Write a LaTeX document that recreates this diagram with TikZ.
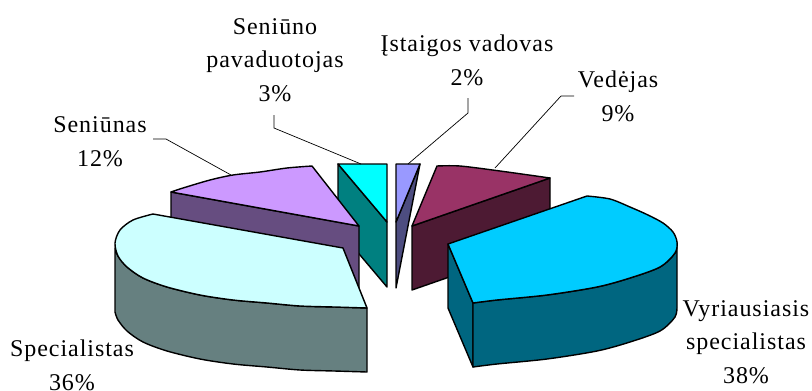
\documentclass[tikz,border=0pt]{standalone}
\usepackage{fontspec}
\setmainfont[LetterSpace=4]{Liberation Serif}
\definecolor{cyanTop}{HTML}{00FFFF}
\definecolor{cyanSide}{HTML}{008080}
\definecolor{istTop}{HTML}{9999FF}
\definecolor{istSide}{HTML}{4D4D80}
\definecolor{vedTop}{HTML}{993366}
\definecolor{vedSide}{HTML}{4D1A33}
\definecolor{vyrTop}{HTML}{00CCFF}
\definecolor{vyrSide}{HTML}{006680}
\definecolor{speTop}{HTML}{CCFFFF}
\definecolor{speSide}{HTML}{668080}
\definecolor{senTop}{HTML}{CC99FF}
\definecolor{senSide}{HTML}{664D80}
\tikzset{
  face/.style={draw=black, line width=1.4pt, line join=round},
  lbl/.style={font=\fontsize{24}{33.5}\selectfont, align=center, inner sep=0pt, anchor=base},
  leader/.style={draw=black, line width=0.7pt}
}
\begin{document}
\begin{tikzpicture}[x=1pt,y=-1pt]
\useasboundingbox (0,0) rectangle (812,391);
% --- Seniuno pavaduotojas (3%)
\fill[cyanSide,face] (338,164) -- (387,222) -- (387,287) -- (338,229) -- cycle;
\fill[cyanTop,face] (338,164) -- (387,164) -- (387,222) -- cycle;
% --- Istaigos vadovas (2%)
\fill[istSide,face] (420,164) -- (396,222) -- (396,288) -- cycle;
\fill[istTop,face] (396,164) -- (420,164) -- (396,222) -- cycle;
% --- Vedejas (9%)
\fill[vedSide,face] (412,226) -- (550,178) -- (550,242) -- (412,290) -- cycle;
\fill[vedTop,face] (412,226) -- (437,166) -- plot[smooth] coordinates {(437,166) (460,166) (500,171) (550,178)} -- cycle;
% --- Seniunas (12%)
\fill[senSide,face] (171,192) -- (359,226) -- (359,290) -- (171,256) -- cycle;
\fill[senTop,face] (359,226) -- (171,192) -- plot[smooth] coordinates {(171,192) (183,188) (210,180) (233,175) (260,172) (287,168) (312,166)} -- cycle;
% --- Vyriausiasis specialistas (38%)
\fill[vyrSide,face] (448,244) -- (473,303) -- (473,367) -- (448,308) -- cycle;
\fill[vyrSide,face] (677,242) -- plot[smooth] coordinates {(677,242) (675,253) (660,267) (630,278) (597,287) (547,295) (497,300) (473,303)}
  -- (473,367) -- plot[smooth] coordinates {(473,367) (497,364) (547,359) (597,351) (630,342) (660,331) (675,317) (677,306)} -- cycle;
\fill[vyrTop,face] (448,244) -- (587,196) -- plot[smooth] coordinates {(587,196) (610,199) (630,207) (648,215) (663,223) (673,232) (677,242) (675,253) (660,267) (630,278) (597,287) (547,295) (497,300) (473,303)} -- cycle;
% --- Specialistas (36%)
\fill[speSide,face] (115,248) -- plot[smooth] coordinates {(115,248) (118,256) (127,267) (143,278) (167,287) (200,295) (233,300) (267,303) (300,306) (334,307) (367,308)}
  -- (367,372) -- plot[smooth] coordinates {(367,372) (334,371) (300,370) (267,367) (233,364) (200,359) (167,351) (143,342) (127,331) (118,320) (115,312)} -- cycle;
\fill[speTop,face] (343,248) -- (153,214) -- plot[smooth] coordinates {(153,214) (133,220) (120,230) (115,243) (118,256) (127,267) (143,278) (167,287) (200,295) (233,300) (267,303) (300,306) (334,307) (367,308)} -- cycle;
% --- labels (anchor = baseline of last line)
\node[lbl] (lSenPav) at (275,101) {Seniūno\\pavaduotojas\\3\%};
\node[lbl] (lSen) at (100,166) {Seniūnas\\12\%};
\node[lbl] (lIst) at (467,85) {Įstaigos vadovas\\2\%};
\node[lbl] (lVed) at (618,121) {Vedėjas\\9\%};
\node[lbl] (lVyr) at (746,383) {Vyriausiasis\\specialistas\\38\%};
\node[lbl] (lSpe) at (72,390) {Specialistas\\36\%};
% --- leader lines
\coordinate (sA) at (153,139); \coordinate (sB) at (166,139); \coordinate (sC) at (231,175);
\coordinate (pA) at (274,115); \coordinate (pB) at (274,128); \coordinate (pC) at (361,164);
\coordinate (iA) at (468,98);  \coordinate (iB) at (468,113); \coordinate (iC) at (408,164);
\coordinate (vA) at (574,96);  \coordinate (vB) at (561,96);  \coordinate (vC) at (495,168);
\draw[leader] (sA) -- (sB) -- (sC);
\draw[leader] (pA) -- (pB) -- (pC);
\draw[leader] (iA) -- (iB) -- (iC);
\draw[leader] (vA) -- (vB) -- (vC);
\end{tikzpicture}
\end{document}
